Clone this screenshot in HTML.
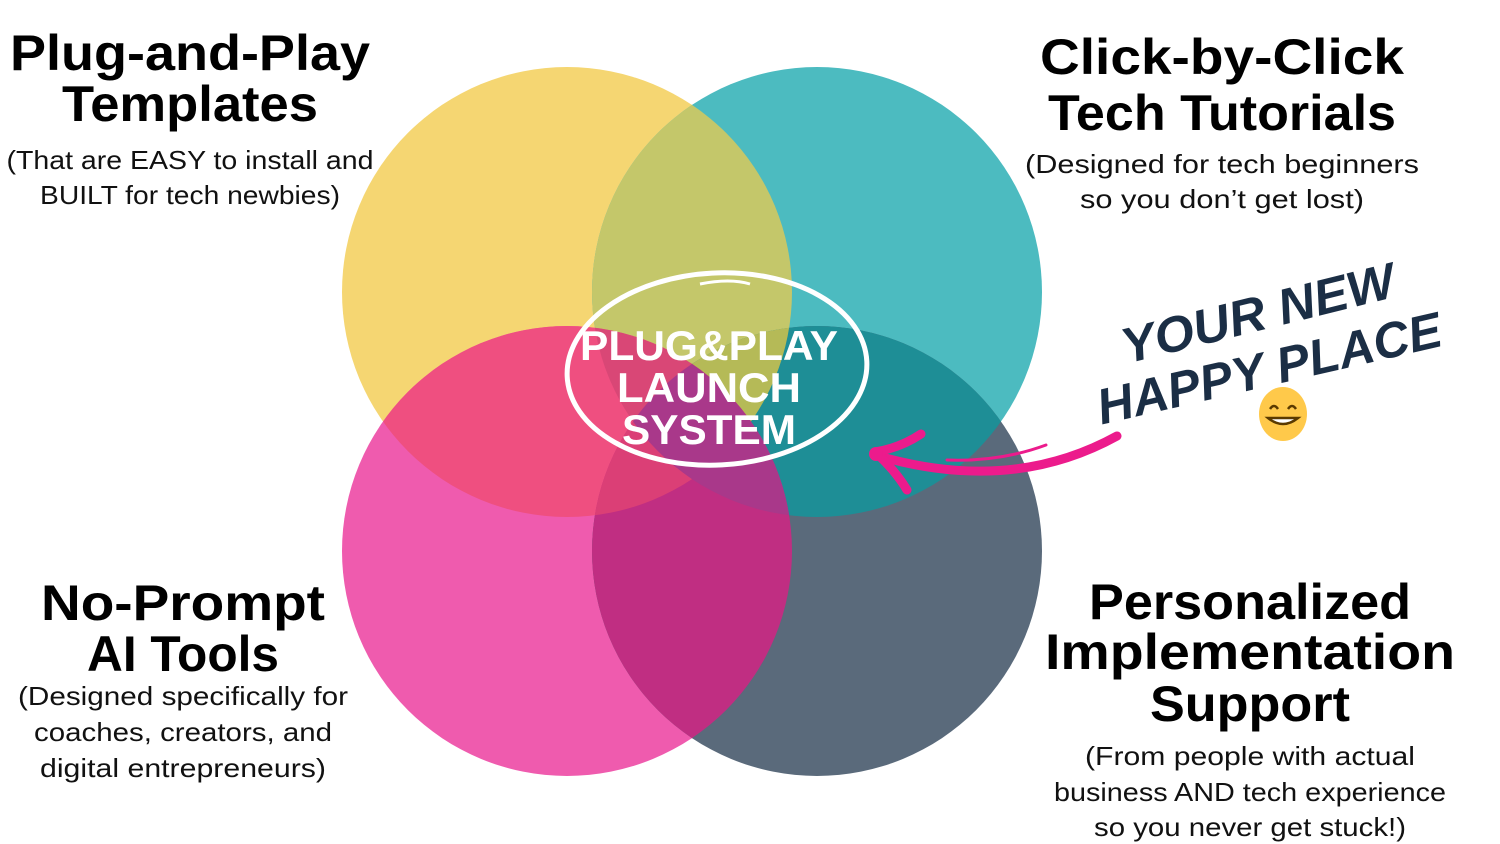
<!DOCTYPE html>
<html><head><meta charset="utf-8"><style>
html,body{margin:0;padding:0;background:#fff;width:1500px;height:844px;overflow:hidden}
svg{display:block}
.h{font-family:"Liberation Sans",sans-serif;font-weight:bold;font-size:50px;fill:#000}
.s{font-family:"Liberation Sans",sans-serif;font-size:26px;fill:#111}
.c{font-family:"Liberation Sans",sans-serif;font-weight:bold;font-size:42px;fill:#fff}
.hw{font-family:"Liberation Sans",sans-serif;font-weight:bold;font-style:italic;font-size:50px;fill:#1B2E45}
</style></head><body>
<svg width="1500" height="844" viewBox="0 0 1500 844">
<defs>
<clipPath id="cY"><circle cx="567" cy="292" r="225"/></clipPath>
<clipPath id="cT"><circle cx="817" cy="292" r="225"/></clipPath>
<clipPath id="cP"><circle cx="567" cy="551" r="225"/></clipPath>
<clipPath id="cS"><circle cx="817" cy="551" r="225"/></clipPath>
</defs>
<circle cx="567" cy="292" r="225" fill="#F5D672"/>
<circle cx="817" cy="292" r="225" fill="#4CBBC0"/>
<circle cx="567" cy="551" r="225" fill="#EF5BAE"/>
<circle cx="817" cy="551" r="225" fill="#5A6A7B"/>
<g clip-path="url(#cY)"><circle cx="817" cy="292" r="225" fill="#C4C76A"/></g>
<g clip-path="url(#cY)"><circle cx="567" cy="551" r="225" fill="#EF4F80"/></g>
<g clip-path="url(#cT)"><circle cx="817" cy="551" r="225" fill="#1E8E96"/></g>
<g clip-path="url(#cP)"><circle cx="817" cy="551" r="225" fill="#C02E82"/></g>
<g clip-path="url(#cY)"><g clip-path="url(#cT)"><circle cx="817" cy="551" r="225" fill="#B5BA57"/></g></g>
<g clip-path="url(#cY)"><g clip-path="url(#cT)"><circle cx="567" cy="551" r="225" fill="#D94776"/></g></g>
<g clip-path="url(#cY)"><g clip-path="url(#cS)"><circle cx="567" cy="551" r="225" fill="#DB3F76"/></g></g>
<g clip-path="url(#cT)"><g clip-path="url(#cS)"><circle cx="567" cy="551" r="225" fill="#A9388A"/></g></g>

<ellipse cx="717" cy="369" rx="150" ry="96" fill="none" stroke="#fff" stroke-width="5" transform="rotate(-3 717 369)"/>
<path d="M700,284 Q730,278 750,284" stroke="#fff" stroke-width="3" fill="none"/>
<text class="c" x="709" y="360" text-anchor="middle" textLength="258" lengthAdjust="spacingAndGlyphs">PLUG&amp;PLAY</text>
<text class="c" x="709" y="402" text-anchor="middle" textLength="184" lengthAdjust="spacingAndGlyphs">LAUNCH</text>
<text class="c" x="709" y="444" text-anchor="middle" textLength="174" lengthAdjust="spacingAndGlyphs">SYSTEM</text>

<text class="h" x="190" y="70" text-anchor="middle" textLength="360" lengthAdjust="spacingAndGlyphs">Plug-and-Play</text>
<text class="h" x="190" y="121" text-anchor="middle" textLength="256" lengthAdjust="spacingAndGlyphs">Templates</text>
<text class="s" x="190" y="169" text-anchor="middle" textLength="367" lengthAdjust="spacingAndGlyphs">(That are EASY to install and</text>
<text class="s" x="190" y="204" text-anchor="middle" textLength="300" lengthAdjust="spacingAndGlyphs">BUILT for tech newbies)</text>

<text class="h" x="1222" y="74" text-anchor="middle" textLength="364" lengthAdjust="spacingAndGlyphs">Click-by-Click</text>
<text class="h" x="1222" y="130" text-anchor="middle" textLength="348" lengthAdjust="spacingAndGlyphs">Tech Tutorials</text>
<text class="s" x="1222" y="173" text-anchor="middle" textLength="394" lengthAdjust="spacingAndGlyphs">(Designed for tech beginners</text>
<text class="s" x="1222" y="208" text-anchor="middle" textLength="284" lengthAdjust="spacingAndGlyphs">so you don’t get lost)</text>

<text class="h" x="183" y="620" text-anchor="middle" textLength="284" lengthAdjust="spacingAndGlyphs">No-Prompt</text>
<text class="h" x="183" y="671" text-anchor="middle" textLength="192" lengthAdjust="spacingAndGlyphs">AI Tools</text>
<text class="s" x="183" y="705" text-anchor="middle" textLength="330" lengthAdjust="spacingAndGlyphs">(Designed specifically for</text>
<text class="s" x="183" y="741" text-anchor="middle" textLength="298" lengthAdjust="spacingAndGlyphs">coaches, creators, and</text>
<text class="s" x="183" y="777" text-anchor="middle" textLength="286" lengthAdjust="spacingAndGlyphs">digital entrepreneurs)</text>

<text class="h" x="1250" y="619" text-anchor="middle" textLength="322" lengthAdjust="spacingAndGlyphs">Personalized</text>
<text class="h" x="1250" y="669" text-anchor="middle" textLength="410" lengthAdjust="spacingAndGlyphs">Implementation</text>
<text class="h" x="1250" y="721" text-anchor="middle" textLength="200" lengthAdjust="spacingAndGlyphs">Support</text>
<text class="s" x="1250" y="765" text-anchor="middle" textLength="330" lengthAdjust="spacingAndGlyphs">(From people with actual</text>
<text class="s" x="1250" y="801" text-anchor="middle" textLength="392" lengthAdjust="spacingAndGlyphs">business AND tech experience</text>
<text class="s" x="1250" y="836" text-anchor="middle" textLength="312" lengthAdjust="spacingAndGlyphs">so you never get stuck!)</text>

<text class="hw" x="1262" y="330" text-anchor="middle" textLength="280" lengthAdjust="spacingAndGlyphs" transform="rotate(-14 1262 330)">YOUR NEW</text>
<text class="hw" x="1273" y="385" text-anchor="middle" textLength="352" lengthAdjust="spacingAndGlyphs" transform="rotate(-13 1273 385)">HAPPY PLACE</text>
<ellipse cx="1283" cy="414" rx="24" ry="27" fill="#FFC94A"/>
<path d="M1270,409 q4,-6 8,0 M1288,409 q4,-6 8,0" stroke="#5a3a00" stroke-width="2.5" fill="none"/>
<path d="M1268,418 q15,12 30,0 z" fill="#fff" stroke="#5a3a00" stroke-width="2.5"/>

<path d="M1117,436 Q1010,495 875,455" stroke="#EC1B8C" stroke-width="9" fill="none" stroke-linecap="round"/>
<path d="M1046,445 Q1000,462 947,460" stroke="#EC1B8C" stroke-width="3" fill="none" stroke-linecap="round"/>
<path d="M921,434 Q900,448 875,452 Q895,470 907,490" stroke="#EC1B8C" stroke-width="9" fill="none" stroke-linecap="round" stroke-linejoin="round"/>
<circle cx="876" cy="454" r="7" fill="#EC1B8C"/>
</svg>
</body></html>
